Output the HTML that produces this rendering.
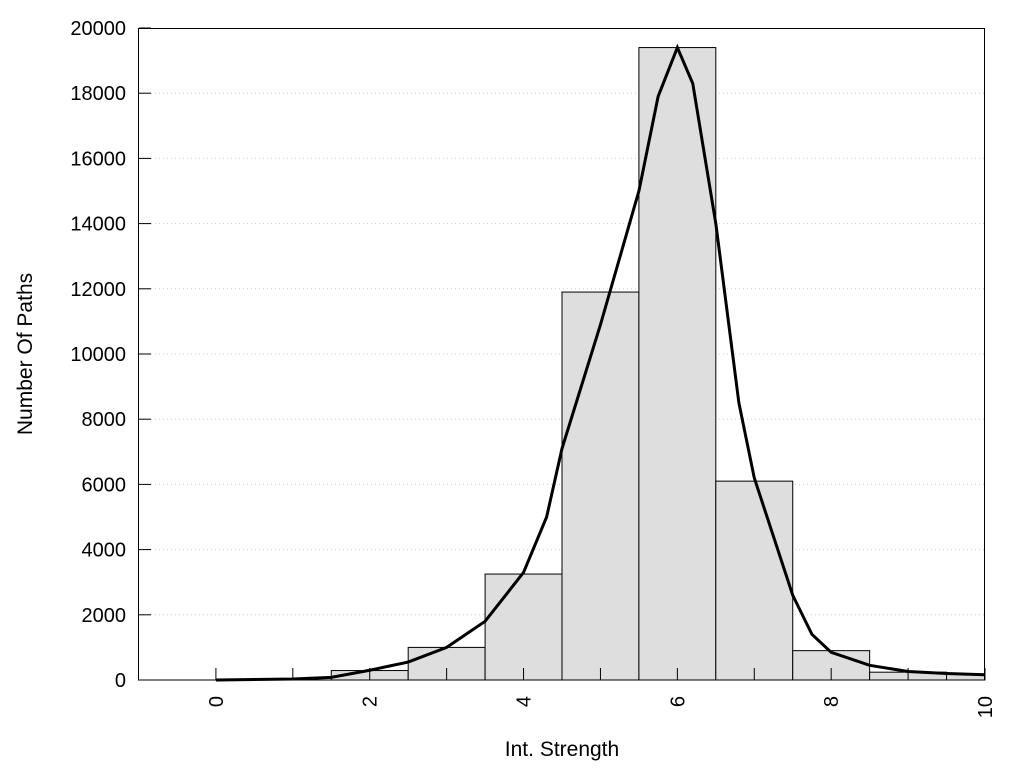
<!DOCTYPE html>
<html><head><meta charset="utf-8"><style>
body{margin:0;background:#fff}
svg{font-family:"Liberation Sans",Arial,sans-serif}
</style></head><body>
<svg width="1024" height="768">
<g id="grid"></g><g id="bars"></g><g id="ticks"></g><path id="curve" fill="none" stroke="#000" stroke-width="3"/>
<rect x="138.5" y="28.5" width="846" height="651.5" fill="none" stroke="#000" stroke-width="1"/>
<g id="labels" font-size="20"></g>
<text x="562" y="756" font-size="21" text-anchor="middle">Int. Strength</text>
<text transform="translate(32,354) rotate(-90)" font-size="21" text-anchor="middle">Number Of Paths</text>
</svg>
<script>
const binCenters=[0,1,2,3,4,5,6,7,8,9,10];
const binCounts=[0,0,290,1000,3250,11900,19400,6100,900,240,180];
const curveX=[0,1,1.5,2,2.5,3,3.5,4,4.3,4.5,5,5.5,5.75,6,6.2,6.5,6.8,7,7.5,7.75,8,8.5,9,9.5,10];
const curveY=[0,30,80,300,550,1000,1800,3300,5000,7100,10900,15000,17900,19400,18300,14000,8500,6200,2600,1400,850,450,260,200,160];
const yTicks=[0,2000,4000,6000,8000,10000,12000,14000,16000,18000,20000];
const xTicks=[0,2,4,6,8,10];
const NS="http://www.w3.org/2000/svg";
const X=v=>139+(v+1)*(985-139)/11, Y=v=>680-v*(680-28)/20000;
function mk(t,a,p){const e=document.createElementNS(NS,t);for(const k in a)e.setAttribute(k,a[k]);p.appendChild(e);return e;}
const g=document.getElementById('grid'),b=document.getElementById('bars'),tk=document.getElementById('ticks'),lb=document.getElementById('labels');
yTicks.forEach(v=>{
 if(v>0&&v<20000){const l=mk('line',{x1:139,x2:985,y1:Y(v),y2:Y(v),stroke:'#ccc','stroke-dasharray':'1,3'},g);
 
 }
 const t=mk('line',{x1:139,x2:151,y1:Y(v),y2:Y(v),stroke:'#000'},tk);
 
 
 const s=mk('text',{x:126,y:Y(v)+7,'text-anchor':'end'},lb);s.textContent=v;
 
 
});
for(let i=0;i<=10;i++){const t=mk('line',{x1:X(i),x2:X(i),y1:680,y2:668,stroke:'#000'},tk);
 
 }
binCenters.forEach((c,i)=>{const x0=X(c-0.5),x1=Math.min(X(c+0.5),985);
 const r=mk('rect',{x:x0,y:Y(binCounts[i]),width:x1-x0,height:680-Y(binCounts[i]),fill:'#dedede',stroke:'#000','stroke-width':1},b);
 
 });
xTicks.forEach(v=>{const s=mk('text',{transform:`translate(${X(v)+7},${696}) rotate(-90)`,'text-anchor':'end'},lb);s.textContent=v;
 
 });
document.getElementById('curve').setAttribute('d',curveX.map((x,i)=>(i?'L':'M')+X(x)+','+Y(curveY[i])).join(''));
</script>
</body></html>
